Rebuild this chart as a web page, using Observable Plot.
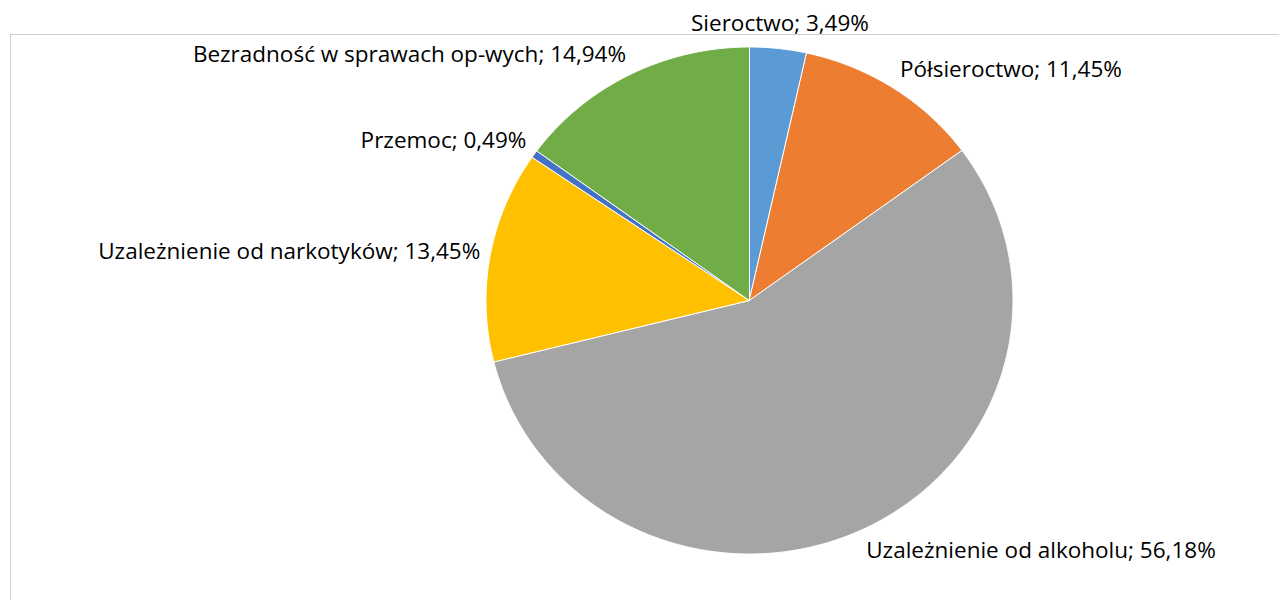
<!DOCTYPE html>
<html>
<head>
<meta charset="utf-8">
<script src="https://cdn.jsdelivr.net/npm/d3@7"></script>
<script src="https://cdn.jsdelivr.net/npm/@observablehq/plot@0.6"></script>
<style>
  html, body { margin: 0; padding: 0; background: #fff; }
  #wrap { position: relative; width: 1279px; height: 600px; overflow: hidden; }
  #frame { position: absolute; left: 10px; top: 34px; width: 1290px; height: 600px; border: 1px solid #d0d0d0; box-sizing: border-box; }
  #chart { position: absolute; left: 0; top: 0; }
</style>
</head>
<body>
<div id="wrap"><div id="frame"></div><div id="chart"></div></div>
<script>
const categories = [
  "Sieroctwo",
  "Półsieroctwo",
  "Uzależnienie od alkoholu",
  "Uzależnienie od narkotyków",
  "Przemoc",
  "Bezradność w sprawach op-wych"
];
const values = [3.49, 11.45, 56.18, 13.45, 0.49, 14.94];
const valueLabels = ["3,49%", "11,45%", "56,18%", "13,45%", "0,49%", "14,94%"];
const colors = ["#5B9BD5", "#ED7D31", "#A5A5A5", "#FFC000", "#4472C4", "#70AD47"];

const total = d3.sum(values);
const arcs = [];
let acc = 0;
values.forEach((v, i) => {
  const a0 = acc / total * 2 * Math.PI;
  acc += v;
  const a1 = acc / total * 2 * Math.PI;
  arcs.push({i, a0, a1, mid: (a0 + a1) / 2});
});

// polygon points for each wedge (angle measured clockwise from 12 o'clock)
const wedgePts = [];
arcs.forEach(({i, a0, a1}) => {
  const n = Math.max(2, Math.ceil((a1 - a0) / (Math.PI / 360)));
  for (let k = 0; k <= n; k++) {
    const a = a0 + (a1 - a0) * k / n;
    wedgePts.push({cat: categories[i], x1: 0, y1: 0, x2: Math.sin(a), y2: Math.cos(a)});
  }
});

const labels = arcs.map(({i, mid}) => {
  const s = Math.sin(mid), c = Math.cos(mid);
  const anchor = s > 0.2 ? "start" : s < -0.2 ? "end" : "middle";
  return {
    text: `${categories[i]}; ${valueLabels[i]}`,
    x: 1.04 * s,
    y: (anchor === "middle" ? 1.1 : 1.09) * c,
    anchor
  };
});

const chart = Plot.plot({
  width: 1279,
  height: 600,
  marginLeft: 486,
  marginRight: 266,
  marginTop: 47,
  marginBottom: 46,
  x: {domain: [-1, 1], axis: null},
  y: {domain: [-1, 1], axis: null},
  color: {domain: categories, range: colors},
  style: {fontFamily: "'Open Sans', 'Noto Sans', sans-serif", background: "transparent", overflow: "visible"},
  marks: [
    Plot.area(wedgePts, {x1: "x1", y1: "y1", x2: "x2", y2: "y2", z: "cat", fill: "cat", stroke: "white", strokeWidth: 1, curve: "linear"}),
    ...["start", "middle", "end"].map(anc =>
      Plot.text(labels.filter(d => d.anchor === anc), {
        x: "x", y: "y", text: "text", textAnchor: anc,
        fontSize: 22.5, fill: "#000", lineAnchor: "middle"
      })
    )
  ]
});
document.getElementById("chart").appendChild(chart);
</script>
</body>
</html>
